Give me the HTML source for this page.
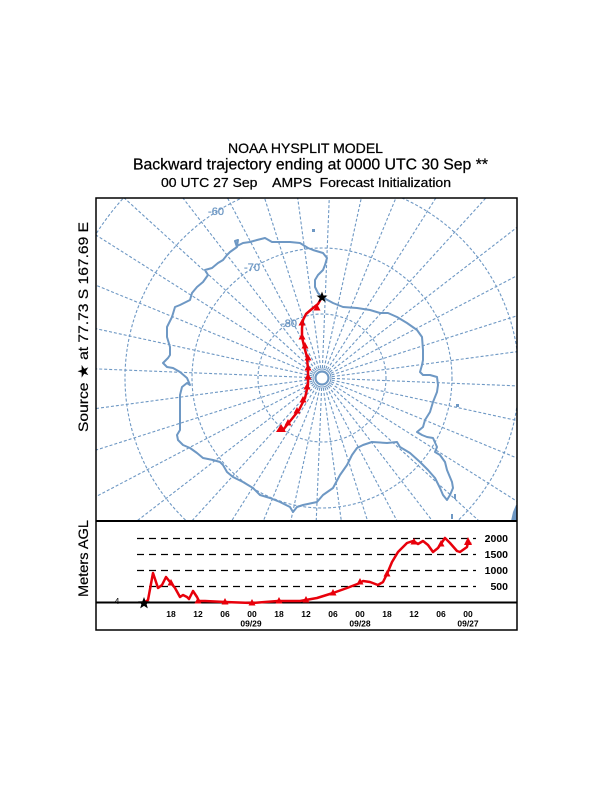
<!DOCTYPE html>
<html><head><meta charset="utf-8"><style>
html,body{margin:0;padding:0;background:#fff;}
svg{display:block;}
</style></head><body>
<svg width="612" height="792" viewBox="0 0 612 792" xmlns="http://www.w3.org/2000/svg">
<rect width="612" height="792" fill="#fff"/>
<g font-family="Liberation Sans, Arial, sans-serif" fill="#000" stroke="#000" stroke-width="0.25">
<text x="305.5" y="153" font-size="14" text-anchor="middle" textLength="155" lengthAdjust="spacingAndGlyphs">NOAA HYSPLIT MODEL</text>
<text x="133" y="169.5" font-size="15.5" textLength="355" lengthAdjust="spacingAndGlyphs">Backward trajectory ending at 0000 UTC 30 Sep **</text>
<text x="161" y="187" font-size="13" textLength="290" lengthAdjust="spacingAndGlyphs" xml:space="preserve">00 UTC 27 Sep    AMPS  Forecast Initialization</text>
</g>
<defs><clipPath id="mc"><rect x="96" y="198" width="421" height="323"/></clipPath></defs>
<g clip-path="url(#mc)">
<g transform="translate(322,378)" stroke="#6e98c4" stroke-width="1.1" fill="none" stroke-dasharray="3 2">
<circle r="64"/><circle r="130"/><circle r="197"/><circle r="268"/>
<g id="mer">
<line x1="0" y1="-10" x2="0" y2="-420" transform="rotate(2.31)"/>
<line x1="0" y1="-10" x2="0" y2="-420" transform="rotate(12.31)"/>
<line x1="0" y1="-10" x2="0" y2="-420" transform="rotate(22.31)"/>
<line x1="0" y1="-10" x2="0" y2="-420" transform="rotate(32.31)"/>
<line x1="0" y1="-10" x2="0" y2="-420" transform="rotate(42.31)"/>
<line x1="0" y1="-10" x2="0" y2="-420" transform="rotate(52.31)"/>
<line x1="0" y1="-10" x2="0" y2="-420" transform="rotate(62.31)"/>
<line x1="0" y1="-10" x2="0" y2="-420" transform="rotate(72.31)"/>
<line x1="0" y1="-10" x2="0" y2="-420" transform="rotate(82.31)"/>
<line x1="0" y1="-10" x2="0" y2="-420" transform="rotate(92.31)"/>
<line x1="0" y1="-10" x2="0" y2="-420" transform="rotate(102.31)"/>
<line x1="0" y1="-10" x2="0" y2="-420" transform="rotate(112.31)"/>
<line x1="0" y1="-10" x2="0" y2="-420" transform="rotate(122.31)"/>
<line x1="0" y1="-10" x2="0" y2="-420" transform="rotate(132.31)"/>
<line x1="0" y1="-10" x2="0" y2="-420" transform="rotate(142.31)"/>
<line x1="0" y1="-10" x2="0" y2="-420" transform="rotate(152.31)"/>
<line x1="0" y1="-10" x2="0" y2="-420" transform="rotate(162.31)"/>
<line x1="0" y1="-10" x2="0" y2="-420" transform="rotate(172.31)"/>
<line x1="0" y1="-10" x2="0" y2="-420" transform="rotate(182.31)"/>
<line x1="0" y1="-10" x2="0" y2="-420" transform="rotate(192.31)"/>
<line x1="0" y1="-10" x2="0" y2="-420" transform="rotate(202.31)"/>
<line x1="0" y1="-10" x2="0" y2="-420" transform="rotate(212.31)"/>
<line x1="0" y1="-10" x2="0" y2="-420" transform="rotate(222.31)"/>
<line x1="0" y1="-10" x2="0" y2="-420" transform="rotate(232.31)"/>
<line x1="0" y1="-10" x2="0" y2="-420" transform="rotate(242.31)"/>
<line x1="0" y1="-10" x2="0" y2="-420" transform="rotate(252.31)"/>
<line x1="0" y1="-10" x2="0" y2="-420" transform="rotate(262.31)"/>
<line x1="0" y1="-10" x2="0" y2="-420" transform="rotate(272.31)"/>
<line x1="0" y1="-10" x2="0" y2="-420" transform="rotate(282.31)"/>
<line x1="0" y1="-10" x2="0" y2="-420" transform="rotate(292.31)"/>
<line x1="0" y1="-10" x2="0" y2="-420" transform="rotate(302.31)"/>
<line x1="0" y1="-10" x2="0" y2="-420" transform="rotate(312.31)"/>
<line x1="0" y1="-10" x2="0" y2="-420" transform="rotate(322.31)"/>
<line x1="0" y1="-10" x2="0" y2="-420" transform="rotate(332.31)"/>
<line x1="0" y1="-10" x2="0" y2="-420" transform="rotate(342.31)"/>
<line x1="0" y1="-10" x2="0" y2="-420" transform="rotate(352.31)"/>
</g>
</g>
<circle cx="322" cy="378" r="6.5" fill="none" stroke="#6e98c4" stroke-width="2.2"/>
<circle cx="322" cy="378" r="9" fill="none" stroke="#6e98c4" stroke-width="1"/>
<path fill="none" stroke="#6e98c4" stroke-width="2" stroke-linejoin="round" d="M170,355 L170,347 L167,337 L167,327 L172,317 L175,307 L180,305 L190,300 L192,293 L197,287 L203,282 L208,275 L205,270 L212,268 L218,263 L223,260 L227,255 L230,252 L237,247 L235,241 L238,240 L237,246 L243,243 L250,242 L257,240 L265,238 L272,242 L280,242 L290,242 L300,243 L308,248 L313,250 L323,253 L327,258 L325,265 L323,270 L318,275 L315,280 L315,287 L318,293 L322,297 L333,303 L343,307 L357,308 L370,310 L380,313 L388,313 L397,317 L407,323 L417,330 L422,337 L423,350 L423,360 L422,365 L420,372 L423,375 L430,375 L437,377 L438,385 L437,392 L433,402 L430,412 L425,420 L423,427 L417,432 L422,435 L427,437 L433,438 L437,447 L435,452 L440,455 L445,462 L447,470 L452,482 L453,488 L450,495 L447,500 L443,495 L440,488 L435,478 L428,470 L420,462 L410,453 L400,447 L397,442 L387,443 L372,442 L363,445 L357,448 L352,455 L347,465 L340,475 L333,488 L323,495 L317,502 L303,505 L297,507 L293,512 L290,507 L280,502 L270,498 L260,495 L253,488 L243,482 L233,477 L227,472 L223,465 L220,462 L213,460 L203,458 L197,453 L190,448 L183,445 L178,440 L177,435 L180,430 L180,415 L180,395 L182,387 L187,383 L190,385 L187,378 L180,372 L173,368 L167,367 L163,363 L168,358 Z"/>
<g fill="#6e98c4">
<rect x="312" y="229" width="3" height="3"/>
<rect x="456" y="404" width="3" height="3"/>
<rect x="454" y="494" width="2" height="5"/>
<rect x="451" y="514" width="2" height="5"/>
<path d="M511,521 L513,512 L516,505 L517,505 L517,521 Z"/>
</g>
<g font-family="Liberation Sans, Arial, sans-serif" font-size="11" fill="#6e98c4" stroke="#6e98c4" stroke-width="0.3" text-anchor="middle">
<text x="216" y="215">-60</text>
<text x="252" y="271">-70</text>
<text x="289" y="327">-80</text>
</g>
<polyline fill="none" stroke="#e8000b" stroke-width="2.5" stroke-linejoin="round" points="322,297 318,304 313,308 306,314 303,320 302,328 302,337 304,346 307,357 308,370 308,385 305,398 299,410 291,420 283,430"/>
<g fill="#e8000b">
<polygon points="317,304 313.5,310.5 320.5,310.5"/>
<polygon points="302,319 298.5,325.5 305.5,325.5"/>
<polygon points="302,333 298.5,339.5 305.5,339.5"/>
<polygon points="305,342 301.5,348.5 308.5,348.5"/>
<polygon points="308,354 304.5,360.5 311.5,360.5"/>
<polygon points="308,364 304.5,370.5 311.5,370.5"/>
<polygon points="308,373 304.5,379.5 311.5,379.5"/>
<polygon points="307,383 303.5,389.5 310.5,389.5"/>
<polygon points="303,396 299.5,402.5 306.5,402.5"/>
<polygon points="297,407 293.5,413.5 300.5,413.5"/>
<polygon points="288,419 284.5,425.5 291.5,425.5"/>
<polygon points="281,424 276,432 286,432"/>
</g>
<polygon fill="#000" points="322,291.5 323.5,295.5 327.5,295.6 324.3,298.1 325.5,302.2 322,299.8 318.5,302.2 319.7,298.1 316.5,295.6 320.5,295.5"/>
</g>
<!-- frame -->
<rect x="96" y="198" width="421" height="432" fill="none" stroke="#000" stroke-width="1.5"/>
<line x1="96" y1="521" x2="517" y2="521" stroke="#000" stroke-width="2"/>
<!-- side labels -->
<g font-family="Liberation Sans, Arial, sans-serif" font-size="14" fill="#000" stroke="#000" stroke-width="0.2">
<text transform="translate(88,432) rotate(-90)" textLength="210" lengthAdjust="spacingAndGlyphs">Source ★ at  77.73 S  167.69 E</text>
<text transform="translate(88,597) rotate(-90)" textLength="77" lengthAdjust="spacingAndGlyphs">Meters AGL</text>
</g>
<!-- bottom panel -->
<g stroke="#000" stroke-width="1.2" stroke-dasharray="7 5">
<line x1="137" y1="538.5" x2="476" y2="538.5"/>
<line x1="137" y1="554.5" x2="476" y2="554.5"/>
<line x1="137" y1="570.5" x2="476" y2="570.5"/>
<line x1="137" y1="586.5" x2="476" y2="586.5"/>
</g>
<line x1="96" y1="602.5" x2="517" y2="602.5" stroke="#000" stroke-width="2"/>
<g font-family="Liberation Sans, Arial, sans-serif" font-size="10.5" font-weight="bold" fill="#000" text-anchor="end">
<text x="508" y="542">2000</text>
<text x="508" y="558">1500</text>
<text x="508" y="574">1000</text>
<text x="508" y="590">500</text>
</g>
<g font-family="Liberation Sans, Arial, sans-serif" font-size="8.5" font-weight="bold" fill="#000" text-anchor="middle">
<text x="117" y="604" font-weight="normal">4</text>
<text x="171" y="617">18</text>
<text x="198" y="617">12</text>
<text x="225" y="617">06</text>
<text x="252" y="617">00</text>
<text x="279" y="617">18</text>
<text x="306" y="617">12</text>
<text x="333" y="617">06</text>
<text x="360" y="617">00</text>
<text x="387" y="617">18</text>
<text x="414" y="617">12</text>
<text x="441" y="617">06</text>
<text x="468" y="617">00</text>
<text x="251" y="626.5">09/29</text>
<text x="360" y="626.5">09/28</text>
<text x="468" y="626.5">09/27</text>
</g>
<polyline fill="none" stroke="#e8000b" stroke-width="2.5" stroke-linejoin="round" points="144,603 148,600 153,573 158,588 162,585 166,577 170,582 175,588 180,597 183,595 187,597 189,599 193,591 197,597 199,601 205,601 225,602 252,603 265,602 278,601 300,601 317,598 333,593 347,588 360,583 363,581 370,582 378,585 383,582 387,574 392,562 398,552 407,543 413,541 418,544 423,541 428,545 433,552 438,548 445,538 450,543 457,551 460,552 467,547 468,542 471,544"/>
<g fill="#e8000b">
<polygon points="171,579 167.5,585.5 174.5,585.5"/>
<polygon points="198,597 194.5,603.5 201.5,603.5"/>
<polygon points="225,598 221.5,604.5 228.5,604.5"/>
<polygon points="252,599 248.5,605.5 255.5,605.5"/>
<polygon points="279,597 275.5,603.5 282.5,603.5"/>
<polygon points="306,596 302.5,602.5 309.5,602.5"/>
<polygon points="333,589 329.5,595.5 336.5,595.5"/>
<polygon points="360,578 356.5,584.5 363.5,584.5"/>
<polygon points="387,570 383.5,576.5 390.5,576.5"/>
<polygon points="414,538 410.5,544.5 417.5,544.5"/>
<polygon points="441,540 437.5,546.5 444.5,546.5"/>
<polygon points="468,537 464,545 472,545"/>
</g>
<polygon fill="#000" points="144,597 145.6,601.3 150,601.4 146.6,604.1 147.8,608.4 144,605.9 140.2,608.4 141.4,604.1 138,601.4 142.4,601.3"/>
</svg>
</body></html>
